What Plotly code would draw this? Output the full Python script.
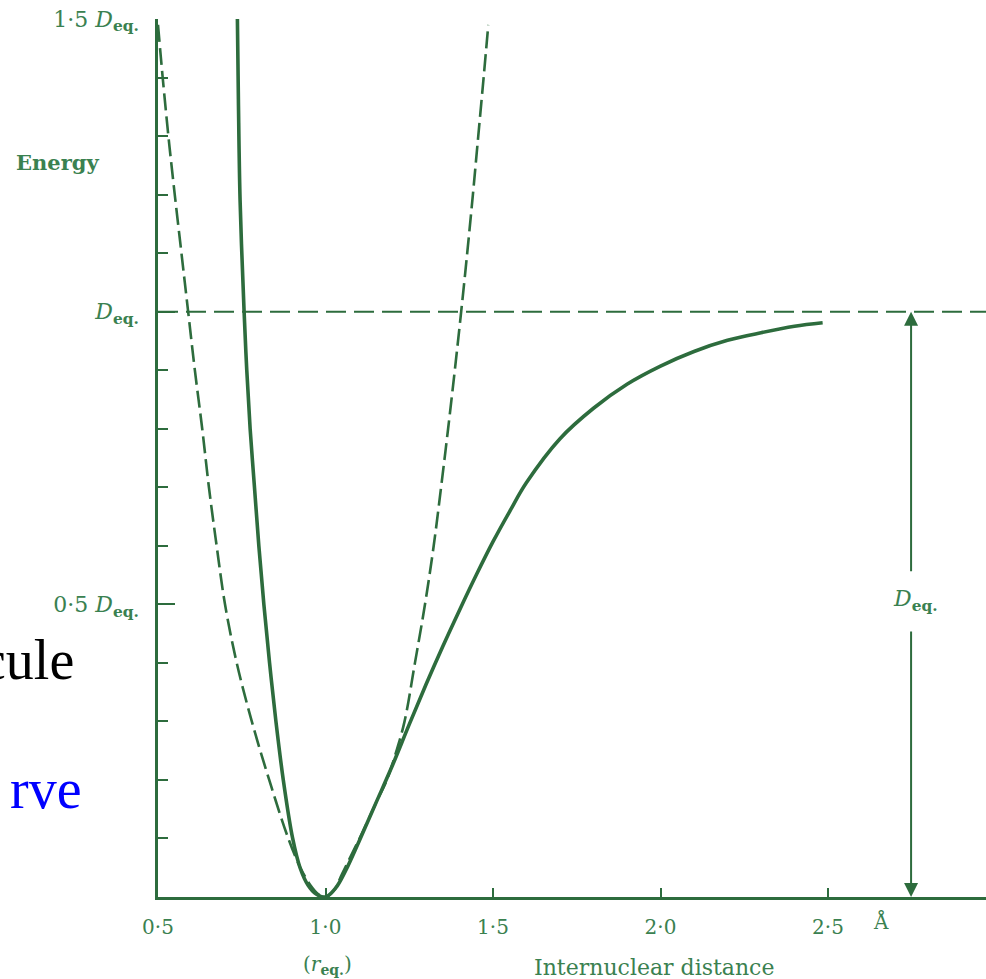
import plotly.graph_objects as go

# ---- data (r in Å, energy in units of D_eq) ----
# solid curve (true potential energy curve)
morse_r = [0.737, 0.740, 0.745, 0.757, 0.765, 0.775, 0.788, 0.801, 0.816, 0.833,
           0.852, 0.874, 0.902, 0.924, 0.948, 0.972, 1.000, 1.030, 1.060, 1.100,
           1.150, 1.200, 1.250, 1.300, 1.350, 1.400, 1.450, 1.500, 1.550, 1.600,
           1.700, 1.800, 1.900, 2.000, 2.100, 2.200, 2.300, 2.400, 2.484]
morse_E = [1.500, 1.362, 1.191, 1.000, 0.900, 0.800, 0.700, 0.600, 0.500, 0.400,
           0.300, 0.200, 0.100, 0.050, 0.020, 0.005, 0.000, 0.015, 0.045, 0.095,
           0.160, 0.225, 0.295, 0.363, 0.428, 0.490, 0.550, 0.607, 0.659, 0.708,
           0.783, 0.835, 0.876, 0.907, 0.932, 0.951, 0.964, 0.975, 0.981]

# dashed curve (parabola)
harm_r = [0.500, 0.514, 0.531, 0.550, 0.570, 0.590, 0.610, 0.632, 0.652, 0.675,
          0.700, 0.735, 0.780, 0.832, 0.889, 0.925, 0.955, 0.978, 1.000, 1.025,
          1.050, 1.080, 1.110, 1.150, 1.183, 1.212, 1.236, 1.267, 1.297, 1.323,
          1.345, 1.366, 1.386, 1.405, 1.423, 1.440, 1.456, 1.472, 1.486]
harm_E = [1.490, 1.400, 1.300, 1.200, 1.100, 1.000, 0.900, 0.800, 0.700, 0.600,
          0.500, 0.400, 0.300, 0.200, 0.100, 0.050, 0.020, 0.005, 0.000, 0.011,
          0.040, 0.075, 0.110, 0.160, 0.200, 0.250, 0.300, 0.400, 0.500, 0.600,
          0.700, 0.800, 0.900, 1.000, 1.100, 1.200, 1.300, 1.400, 1.490]

D_eq = 1.0
arrow_r = 2.748

x_tickvals = [0.5, 1.0, 1.5, 2.0, 2.5]
x_ticktext = ["0·5", "1·0", "1·5", "2·0", "2·5"]
y_tickvals = [0.5, 1.0, 1.5]
y_ticktext = ["0·5 <i>D</i><sub><b>eq.</b></sub>",
              "<i>D</i><sub><b>eq.</b></sub>",
              "1·5 <i>D</i><sub><b>eq.</b></sub>"]

LINE = "#2d6c3d"
TEXT = "#3a8150"
SERIF = "DejaVu Serif"

fig = go.Figure()
fig.add_trace(go.Scatter(x=harm_r, y=harm_E, mode="lines",
                         line=dict(color=LINE, width=2.6, dash="17px,6px",
                                   shape="spline", smoothing=1.0),
                         showlegend=False, hoverinfo="skip"))
fig.add_trace(go.Scatter(x=morse_r, y=morse_E, mode="lines",
                         line=dict(color=LINE, width=3.6, shape="spline", smoothing=1.0),
                         showlegend=False, hoverinfo="skip"))

# dissociation energy level
fig.add_shape(type="line", xref="paper", x0=0, x1=1, yref="y", y0=D_eq, y1=D_eq,
              line=dict(color=LINE, width=2, dash="20px,8px"))

ann = []
# double arrow for D_eq
ann.append(dict(x=arrow_r, y=D_eq, ax=arrow_r, ay=0.554, xref="x", yref="y",
                axref="x", ayref="y", text="", showarrow=True, arrowhead=2,
                arrowsize=1.4, arrowwidth=2, arrowcolor=LINE, standoff=0))
ann.append(dict(x=arrow_r, y=0, ax=arrow_r, ay=0.456, xref="x", yref="y",
                axref="x", ayref="y", text="", showarrow=True, arrowhead=2,
                arrowsize=1.4, arrowwidth=2, arrowcolor=LINE, standoff=0))
ann.append(dict(x=arrow_r + 0.012, y=0.507, xref="x", yref="y", showarrow=False,
                xanchor="center", yanchor="middle",
                text="<i>D</i><sub><b>eq.</b></sub>",
                font=dict(family=SERIF, size=22, color=TEXT)))

W, H = 986, 979
L, R, T, B = 158, 0, 19, 82
pw, ph = W - L - R, H - T - B


def px(xp):
    return (xp - L) / pw


def py(yp):
    return (H - B - yp) / ph


def label(xp, yp, text, size, color=TEXT, family=SERIF, xanchor="center", yanchor="middle"):
    return dict(x=px(xp), y=py(yp), xref="paper", yref="paper", showarrow=False,
                xanchor=xanchor, yanchor=yanchor, text=text,
                font=dict(family=family, size=size, color=color))


ann.append(label(57, 163, "<b>Energy</b>", 21))
ann.append(label(881, 922, "Å", 20))
ann.append(label(327, 965, "(<i>r</i><sub><b>eq.</b></sub>)", 20))
ann.append(label(654, 967, "Internuclear distance", 22))
# leftover slide text at the left edge
ann.append(label(76, 693, "cule", 56, color="black", family="Liberation Serif",
                 xanchor="right", yanchor="bottom"))
ann.append(label(84, 822, "rve", 56, color="#0000ff", family="Liberation Serif",
                 xanchor="right", yanchor="bottom"))

fig.update_layout(
    width=W, height=H, autosize=False,
    margin=dict(l=L, r=R, t=T, b=B, pad=0),
    paper_bgcolor="white", plot_bgcolor="white",
    annotations=ann,
    xaxis=dict(range=[0.5, 0.5 + pw / 335.0], showgrid=False, zeroline=False,
               showline=True, linecolor=LINE, linewidth=2.5,
               tickmode="array", tickvals=x_tickvals, ticktext=x_ticktext,
               ticks="inside", ticklen=9, tickwidth=2, tickcolor=LINE,
               ticklabelstandoff=10,
               tickfont=dict(family=SERIF, size=20, color=TEXT)),
    yaxis=dict(range=[0, 1.5], showgrid=False, zeroline=False,
               showline=True, linecolor=LINE, linewidth=2.5,
               tickmode="array", tickvals=y_tickvals, ticktext=y_ticktext,
               ticks="inside", ticklen=17, tickwidth=2, tickcolor=LINE,
               ticklabelstandoff=12,
               minor=dict(ticks="inside", ticklen=10, tickwidth=1.5,
                          tickcolor=LINE, dtick=0.1, tick0=0),
               tickfont=dict(family=SERIF, size=22, color=TEXT)),
)

fig.write_html("out.html",
               config={"displayModeBar": False},
               post_script="document.body.style.margin='0';"
                           "document.body.style.overflow='hidden';")
